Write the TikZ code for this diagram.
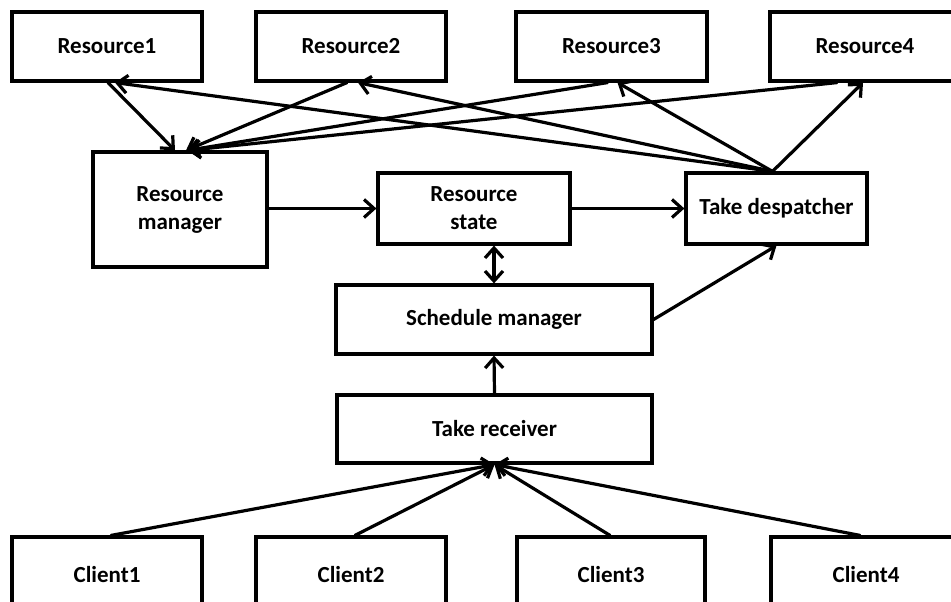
\documentclass[tikz,border=0pt]{standalone}
\usepackage{fontspec}
\setmainfont{Carlito}
\usepackage{tikz}
\usetikzlibrary{arrows.meta}

\begin{document}
\begin{tikzpicture}[x=1pt, y=-1pt, line width=3.2pt,
            block/.style = {
                draw=black,
                text=black,
                fill=white,
                align=center,
                inner sep=0pt,
                font=\fontsize{23}{28}\selectfont\bfseries,
                minimum height=69pt,
                minimum width=190pt,
                },
            link/.style = {
                -{Straight Barb[length=10pt,width=18pt]},
                line cap=round}]
            \useasboundingbox (0,0) rectangle (951,602);
            \clip (0,0) rectangle (951,602);
            % resources
            \node[block] (r1) at (107,46.5) {Resource1};
            \node[block] (r2) at (351,46.5) {Resource2};
            \node[block, minimum width=191pt] (r3) at (611.5,46.5) {Resource3};
            \node[block] (r4) at (865,46.5) {Resource4};
            % middle
            \node[block, minimum width=174pt, minimum height=115pt] (rm) at (180,209.5) {Resource\\manager};
            \node[block, minimum width=192pt, minimum height=71pt] (rs) at (474,208.5) {Resource\\state};
            \node[block, minimum width=181pt, minimum height=71pt] (td) at (776.5,208.5) {Take despatcher};
            \node[block, minimum width=316pt] (sm) at (494,319.5) {Schedule manager};
            \node[block, minimum width=315pt, minimum height=68pt] (tr) at (494.5,429) {Take receiver};
            % clients
            \node[block, minimum height=76pt] (c1) at (107,575) {Client1};
            \node[block, minimum height=76pt] (c2) at (351,575) {Client2};
            \node[block, minimum width=188pt, minimum height=76pt] (c3) at (611,575) {Client3};
            \node[block, minimum height=76pt] (c4) at (866,575) {Client4};

            \draw[link] ([xshift=1pt]r1.south) -- ([xshift=-5pt]rm.north);
            \draw[link] ([xshift=-4pt]r2.south) -- ([xshift=6pt]rm.north);
            \draw[link] ([xshift=-4pt]r3.south) -- ([xshift=7pt]rm.north);
            \draw[link] ([xshift=-28pt]r4.south) -- ([xshift=8pt]rm.north);
            \draw[link] ([xshift=-4pt]td.north) -- ([xshift=8pt]r1.south);
            \draw[link] ([xshift=-4pt]td.north) -- ([xshift=7pt]r2.south);
            \draw[link] ([xshift=-4pt]td.north) -- ([xshift=6pt]r3.south);
            \draw[link] ([xshift=-4pt]td.north) -- ([xshift=-2pt]r4.south);

            \draw[link] (rm.east |- rs.west) -- (rs.west);
            \draw[link] (rs.east) -- (td.west);
            \draw[{Straight Barb[length=10pt,width=18pt]}-{Straight Barb[length=10pt,width=18pt]}]
                ([xshift=20pt]rs.south) -- (sm.north);
            \draw[link] (sm.east) -- (td.south);
            \draw[link] (tr.north) -- (sm.south);

            \draw[link] ([xshift=4pt]c1.north) -- (tr.south);
            \draw[link] ([xshift=4pt]c2.north) -- (tr.south);
            \draw[link] ([xshift=-1pt]c3.north) -- (tr.south);
            \draw[link] ([xshift=-6pt]c4.north) -- (tr.south);
        \end{tikzpicture}
\end{document}
